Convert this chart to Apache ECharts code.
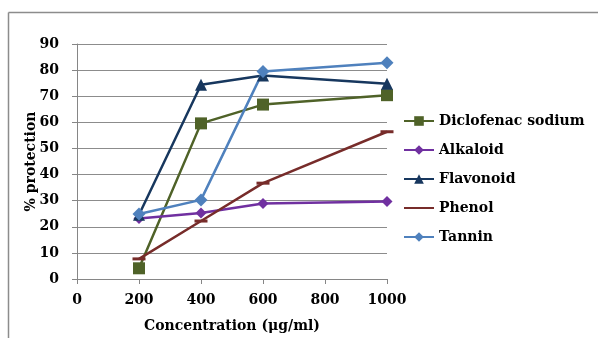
<!DOCTYPE html>
<html>
<head>
<meta charset="utf-8">
<script src="https://cdn.jsdelivr.net/npm/echarts@6/dist/echarts.min.js"></script>
<style>
  html, body { margin: 0; padding: 0; background: #fff; }
  #main { width: 598px; height: 338px; }
</style>
</head>
<body>
<div id="main"></div>
<script>
  // concentration (µg/ml)
  var conc = [200, 400, 600, 1000];
  // % protection
  var diclofenac = [4.1, 59.6, 66.8, 70.4];
  var alkaloid = [23.2, 25.3, 28.9, 29.7];
  var flavonoid = [24.6, 74.4, 77.9, 74.8];
  var phenol = [7.7, 22.2, 36.7, 56.4];
  var tannin = [24.9, 30.3, 79.5, 82.8];

  var serif = '"DejaVu Serif", "Liberation Serif", serif';

  function pairs(vals) {
    return conc.map(function (c, i) { return [c, vals[i]]; });
  }

  function line(name, vals, color, symbol, size) {
    return {
      name: name,
      type: 'line',
      data: pairs(vals),
      symbol: symbol,
      symbolSize: size,
      showAllSymbol: true,
      lineStyle: { color: color, width: 2.5 },
      itemStyle: { color: color },
      emphasis: { disabled: true }
    };
  }

  var chart = echarts.init(document.getElementById('main'));
  chart.setOption({
    animation: false,
    backgroundColor: '#fff',
    graphic: [
      { type: 'line', shape: { x1: 8.5, y1: 12.5, x2: 598, y2: 12.5 }, style: { stroke: '#8c8c8c', lineWidth: 1.5 } },
      { type: 'line', shape: { x1: 8.5, y1: 12.5, x2: 8.5, y2: 338 }, style: { stroke: '#8c8c8c', lineWidth: 1.5 } }
    ],
    grid: { left: 77, right: 211, top: 44, bottom: 58 },
    legend: {
      orient: 'vertical',
      left: 398,
      top: 109,
      itemGap: 15,
      itemWidth: 30,
      itemHeight: 12,
      textStyle: { fontFamily: serif, fontWeight: 'bold', fontSize: 14, color: '#000' },
      data: ['Diclofenac sodium', 'Alkaloid', 'Flavonoid', { name: 'Phenol', itemStyle: { opacity: 0 } }, 'Tannin']
    },
    xAxis: {
      type: 'value',
      min: 0, max: 1000, interval: 200,
      name: 'Concentration (μg/ml)',
      nameLocation: 'middle',
      nameGap: 40,
      nameTextStyle: { fontFamily: serif, fontWeight: 'bold', fontSize: 14, color: '#000' },
      axisLine: { lineStyle: { color: '#868686' } },
      axisTick: { show: true, length: 5, lineStyle: { color: '#868686' } },
      splitLine: { show: false },
      axisLabel: { fontFamily: serif, fontWeight: 'bold', fontSize: 14, color: '#000', margin: 14, formatter: function (v) { return String(v); } }
    },
    yAxis: {
      type: 'value',
      min: 0, max: 90, interval: 10,
      name: '% protection',
      nameLocation: 'middle',
      nameGap: 39,
      nameMoveOverlap: false,
      nameTextStyle: { fontFamily: serif, fontWeight: 'bold', fontSize: 14, color: '#000' },
      axisLine: { show: true, lineStyle: { color: '#868686' } },
      axisTick: { show: true, length: 5, lineStyle: { color: '#868686' } },
      splitLine: { lineStyle: { color: '#8c8c8c', width: 1 } },
      axisLabel: { fontFamily: serif, fontWeight: 'bold', fontSize: 14, color: '#000', margin: 18 }
    },
    series: [
      line('Diclofenac sodium', diclofenac, '#4f6228', 'rect', 12),
      line('Alkaloid', alkaloid, '#7030a0', 'diamond', 11),
      line('Flavonoid', flavonoid, '#17375e', 'triangle', 12),
      line('Phenol', phenol, '#772c2a', 'rect', [13, 3]),
      line('Tannin', tannin, '#4f81bd', 'diamond', 13)
    ]
  });
</script>
</body>
</html>
